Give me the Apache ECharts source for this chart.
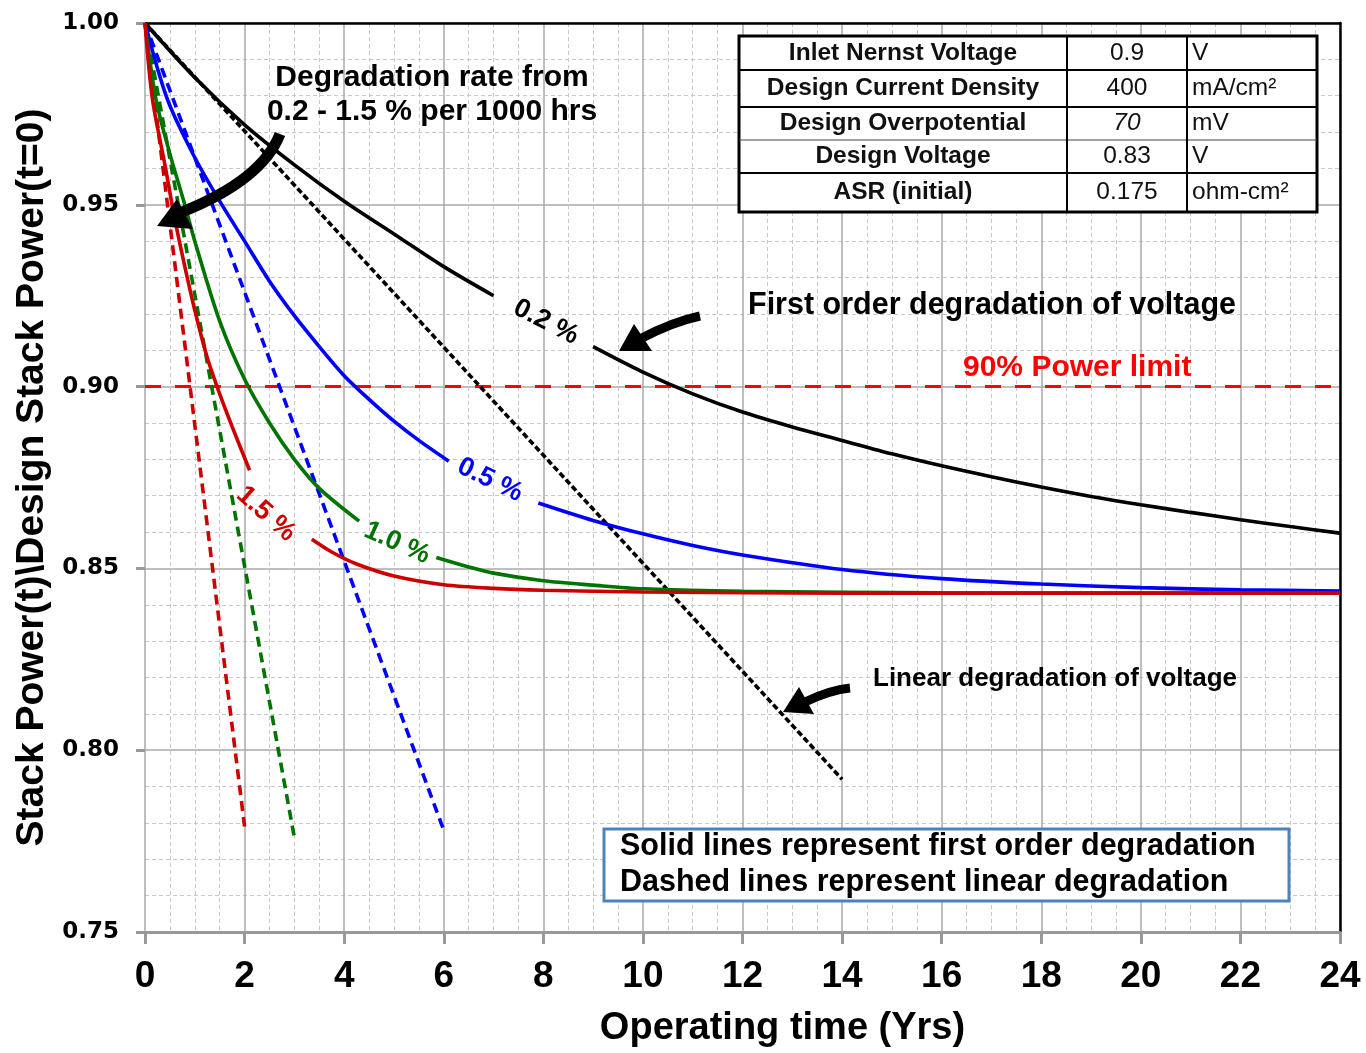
<!DOCTYPE html>
<html><head><meta charset="utf-8">
<script src="https://cdn.jsdelivr.net/npm/echarts@6/dist/echarts.min.js"></script>
<style>html,body{margin:0;padding:0;background:#fff}#c{width:1366px;height:1053px}</style>
</head><body><div id="c"></div>
<script>
// ---- data (years, normalized stack power) ----
const solid02 = [[0,1.0],[1,0.985],[2,0.972],[3,0.961],[4,0.951],[5,0.942],[6,0.933],[7,0.925],[7.1,'-'],[9,0.911],[10,0.904],[11,0.898],[12,0.893],[13,0.8889],[14,0.8852],[15,0.8815],[16,0.8782],[17,0.8752],[18,0.8724],[19,0.8698],[20,0.8675],[21,0.8654],[22,0.8634],[23,0.8615],[24,0.8597]];
const solid05 = [[0,1.0],[0.45,0.979],[1,0.963],[1.5,0.951],[2,0.940],[2.5,0.929],[3,0.9195],[3.5,0.911],[4,0.903],[4.5,0.8965],[5,0.8905],[5.5,0.8852],[6.1,0.8795],[6.2,'-'],[7.9,0.868],[9,0.8632],[10,0.8595],[11,0.8563],[12,0.8537],[14,0.8497],[16,0.8472],[18,0.8457],[20,0.8447],[22,0.8441],[24,0.8438]];
const solid10 = [[0,1.0],[0.22,0.979],[0.5,0.964],[0.8,0.950],[1,0.940],[1.5,0.918],[2,0.902],[2.5,0.890],[3,0.880],[3.5,0.872],[4.3,0.863],[4.4,'-'],[5.85,0.853],[6.5,0.8504],[7,0.8487],[8,0.8466],[9,0.8454],[10,0.8444],[12,0.8437],[16,0.8433],[24,0.8432]];
const solid15 = [[0,1.0],[0.15,0.979],[0.4,0.961],[0.6,0.946],[0.8,0.933],[1.0,0.921],[1.25,0.908],[1.5,0.898],[1.75,0.889],[2.1,0.877],[2.2,'-'],[3.35,0.858],[3.75,0.8545],[4.25,0.8512],[5,0.8479],[6,0.8455],[7,0.8445],[8,0.844],[10,0.8435],[14,0.8432],[24,0.8432]];
const dash02 = [[0,1.0],[14,0.792]];
const dash05 = [[0,1.0],[6,0.778]];
const dash10 = [[0,1.0],[3,0.776]];
const dash15 = [[0,1.0],[2,0.779]];
const powerLimit = 0.90;
const curveLabels = ['0.2 %','0.5 %','1.0 %','1.5 %'];
const tableRows = [
  ['Inlet Nernst Voltage','0.9','V'],
  ['Design Current Density','400','mA/cm²'],
  ['Design Overpotential','70','mV'],
  ['Design Voltage','0.83','V'],
  ['ASR (initial)','0.175','ohm-cm²']
];
const noteLines = ['Solid lines represent first order degradation','Dashed lines represent linear degradation'];

const BLACK='#000000', BLUE='#0000ff', GREEN='#007400', RED='#cc0000';
const F='"Liberation Sans", Arial, sans-serif';

const chart = echarts.init(document.getElementById('c'), null, {renderer:'canvas'});

function line(data, color, dashed, z){
  return {type:'line', data:data, showSymbol:false, symbol:'none', connectNulls:false, silent:true,
    smooth: dashed ? false : 0.3,
    lineStyle:{color:color, width:3.6, type: dashed ? (color===BLACK?[6,3]:[10,6]) : 'solid'}, z:z||3, animation:false};
}

const option = {
  animation:false,
  backgroundColor:'#ffffff',
  grid:{left:145, right:26, top:23, bottom:119, containLabel:false},
  xAxis:[{
    type:'value', min:0, max:24, interval:2, position:'bottom',
    name:'Operating time (Yrs)', nameLocation:'middle', nameGap:78,
    nameTextStyle:{fontFamily:F, fontWeight:'bold', fontSize:38, color:'#000', padding:[0,0,0,80]},
    axisLine:{show:true, onZero:false, lineStyle:{color:'#999999', width:3}},
    axisTick:{show:true, length:12, lineStyle:{color:'#999999', width:3}},
    axisLabel:{margin:26, fontFamily:F, fontWeight:'bold', fontSize:37, color:'#000'},
    splitLine:{show:true, lineStyle:{color:'#a8a8a8', width:1.5}},
    minorTick:{show:false, splitNumber:4},
    minorSplitLine:{show:true, lineStyle:{color:'#c8c8c8', width:1, type:[4,3]}}
  },{
    type:'value', min:0, max:24, position:'top',
    axisLine:{show:true, onZero:false, lineStyle:{color:'#000', width:2.5}},
    axisTick:{show:false}, axisLabel:{show:false}, splitLine:{show:false}
  }],
  yAxis:[{
    type:'value', min:0.75, max:1.0, interval:0.05,
    name:'Stack Power(t)\\Design Stack Power(t=0)', nameLocation:'middle', nameGap:90,
    nameTextStyle:{fontFamily:F, fontWeight:'bold', fontSize:39, color:'#000'},
    axisLine:{show:false, onZero:false},
    axisTick:{show:true, length:9, lineStyle:{color:'#999999', width:3}},
    axisLabel:{margin:26, fontFamily:'"DejaVu Sans", sans-serif', fontWeight:'bold', fontSize:23, color:'#000',
      formatter:v=>v.toFixed(2)},
    splitLine:{show:true, lineStyle:{color:'#a8a8a8', width:1.5}},
    minorTick:{show:false, splitNumber:5},
    minorSplitLine:{show:true, lineStyle:{color:'#c8c8c8', width:1, type:[4,3]}}
  },{
    type:'value', min:0.75, max:1.0, position:'right',
    axisLine:{show:true, onZero:false, lineStyle:{color:'#000', width:2.5}},
    axisTick:{show:false}, axisLabel:{show:false}, splitLine:{show:false}
  }],
  series:[
    {type:'line', data:[[0,powerLimit],[24,powerLimit]], showSymbol:false, symbol:'none', silent:true,
      lineStyle:{color:'#ff0000', width:3, type:[16,14]}, z:2},
    line(dash02, BLACK, true), line(dash05, BLUE, true), line(dash10, GREEN, true), line(dash15, RED, true),
    line(solid02, BLACK, false, 4), line(solid05, BLUE, false, 4), line(solid10, GREEN, false, 4), line(solid15, RED, false, 4)
  ]
};
chart.setOption(option);

// ---- annotations ----
const g = [];
function txt(x,y,text,style){
  g.push({type:'text', x:x, y:y, z:20, silent:true,
    style:Object.assign({text:text, fontFamily:F, fontWeight:'bold', fontSize:26, fill:'#000', align:'left', verticalAlign:'middle'}, style||{})});
}
txt(432,78,'Degradation rate from',{align:'center', fontSize:30});
txt(432,112,'0.2 - 1.5 % per 1000 hrs',{align:'center', fontSize:30});
txt(748,306,'First order degradation of voltage',{fontSize:30.5});
txt(963,368,'90% Power limit',{fontSize:30, fill:'#ff0000'});
txt(873,679,'Linear degradation of voltage',{fontSize:26});

// rotated curve labels
function rlabel(x,y,rot,text,color){
  g.push({type:'text', x:x, y:y, rotation:rot, z:20, silent:true, style:{text:text, fontFamily:F, fontWeight:'bold', fontSize:27, fill:color, align:'center', verticalAlign:'middle'}});
}
rlabel(546,322,-0.47,curveLabels[0],BLACK);
rlabel(490,480,-0.45,curveLabels[1],BLUE);
rlabel(397,543,-0.42,curveLabels[2],GREEN);
rlabel(266,514,-0.72,curveLabels[3],RED);

// arrows
function arrow(shaft, head, w){
  g.push({type:'bezierCurve', z:21, silent:true, shape:shaft, style:{stroke:'#000', lineWidth:w, fill:null, lineCap:'butt'}});
  g.push({type:'polygon', z:21, silent:true, shape:{points:head}, style:{fill:'#000'}});
}
arrow({x1:280,y1:134,cpx1:262,cpy1:180,x2:182,y2:212}, [[157,226],[177,199],[193,229]], 11);
arrow({x1:700,y1:316,cpx1:672,cpy1:322,x2:640,y2:339}, [[619,351],[634,324],[652,351]], 9);
arrow({x1:850,y1:688,cpx1:830,cpy1:690,x2:805,y2:702}, [[783,712],[799,687],[814,714]], 9);

// parameter table
const colX=[739,1067,1187,1317], rowY=[36,70,107,140,173,212];
g.push({type:'rect', z:22, shape:{x:colX[0],y:rowY[0],width:colX[3]-colX[0],height:rowY[5]-rowY[0]}, style:{fill:'#fff', stroke:'#000', lineWidth:3}});
for(let i=1;i<5;i++) g.push({type:'line', z:23, shape:{x1:colX[0],y1:rowY[i],x2:colX[3],y2:rowY[i]}, style:{stroke:i===3?'#444':'#000', lineWidth:i===3?1:2}});
for(let j=1;j<3;j++) g.push({type:'line', z:23, shape:{x1:colX[j],y1:rowY[0],x2:colX[j],y2:rowY[5]}, style:{stroke:'#000', lineWidth:2}});
tableRows.forEach((r,i)=>{
  const cy=(rowY[i]+rowY[i+1])/2;
  const base={fontFamily:F, fontSize:24.5, fill:'#111', verticalAlign:'middle'};
  g.push({type:'text', z:24, x:(colX[0]+colX[1])/2, y:cy, style:Object.assign({}, base, {text:r[0], align:'center', fontWeight:'bold'})});
  g.push({type:'text', z:24, x:(colX[1]+colX[2])/2, y:cy, style:Object.assign({}, base, {text:r[1], align:'center', fontWeight:'normal', fontStyle: i===2?'italic':'normal'})});
  g.push({type:'text', z:24, x:colX[2]+5, y:cy, style:Object.assign({}, base, {text:r[2], align:'left', fontWeight:'normal'})});
});

// note box
g.push({type:'rect', z:22, shape:{x:604,y:829,width:685,height:72}, style:{fill:'#fff', stroke:'#4f81bd', lineWidth:3}});
txt(620,847,noteLines[0],{fontSize:30.5});
txt(620,883,noteLines[1],{fontSize:30.5});
g.forEach(e=>{ if(e.type==='text' && e.y>800) e.z=24; });

chart.setOption({graphic:g});
</script></body></html>
